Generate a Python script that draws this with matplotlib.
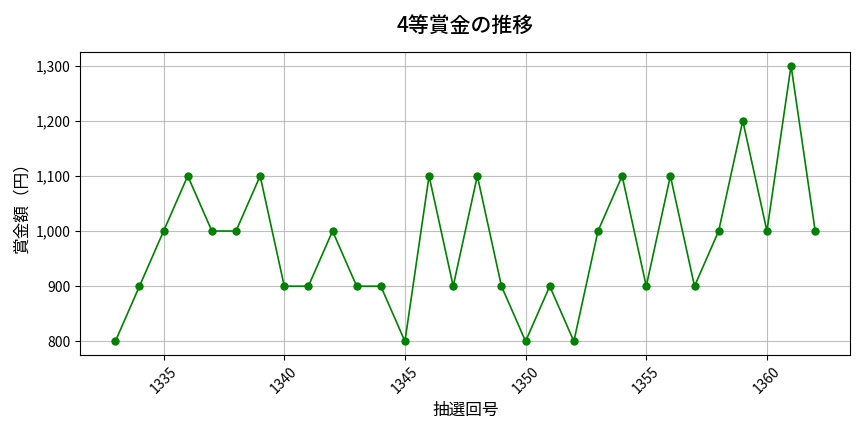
import numpy as np
import matplotlib.pyplot as plt
import matplotlib.ticker as ticker

plt.rcParams['font.family'] = ['Noto Sans CJK JP', 'DejaVu Sans']

# 抽選回号と4等賞金
draws = list(range(1333, 1363))
prizes = [800, 900, 1000, 1100, 1000, 1000, 1100, 900, 900, 1000,
          900, 900, 800, 1100, 900, 1100, 900, 800, 900, 800,
          1000, 1100, 900, 1100, 900, 1000, 1200, 1000, 1300, 1000]

fig, ax = plt.subplots(figsize=(8.64, 4.32), dpi=100)
ax.plot(draws, prizes, marker='o', markersize=5, color='green', linewidth=1.2)

ax.set_title('4等賞金の推移', fontsize=15, fontweight='medium', pad=14)
ax.set_xlabel('抽選回号', fontsize=12)
ax.set_ylabel('賞金額（円）', fontsize=12)
ax.yaxis.set_major_formatter(ticker.FuncFormatter(lambda v, p: f'{int(v):,}'))
ax.xaxis.set_major_locator(ticker.MultipleLocator(5))
plt.setp(ax.get_xticklabels(), rotation=45)
ax.grid(True, color='#b0b0b0', linewidth=0.8, alpha=0.8)

fig.subplots_adjust(left=0.093, right=0.984, top=0.880, bottom=0.178)
plt.savefig('out.png')
